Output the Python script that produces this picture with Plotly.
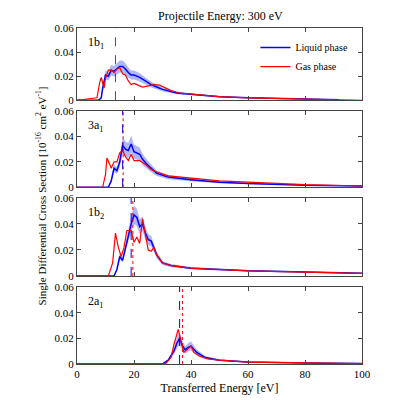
import plotly.graph_objects as go

# Transferred energy [eV] and SDCS [1e-16 cm^2/eV]
labels = ["1b<sub>1</sub>", "3a<sub>1</sub>", "1b<sub>2</sub>", "2a<sub>1</sub>"]

liq_x = [
    [0, 7.5, 8.5, 9, 10, 11, 12, 13, 14, 15, 16, 17, 18, 19, 20, 22, 24, 26, 28, 30, 35, 40, 50, 60, 70, 80, 92],
    [0, 11, 12, 13, 14, 15, 16, 17, 18, 19, 20, 22, 23, 25, 28, 32, 40, 50, 60, 80, 100],
    [0, 13, 14, 15, 16, 17, 18, 19, 20, 21, 22, 23, 24, 25, 26, 27, 28, 30, 33, 40, 50, 60, 80, 100],
    [0, 30, 32, 34, 35, 36, 37, 38, 39, 40, 42, 45, 50, 60, 80, 100],
]
liq_y = [
    [0, 0, 0.002, 0.01, 0.021, 0.02, 0.025, 0.024, 0.026, 0.028, 0.028, 0.026, 0.023, 0.021, 0.021, 0.019, 0.016, 0.013, 0.011, 0.009, 0.006, 0.005, 0.003, 0.002, 0.0015, 0.001, 0.0005],
    [0, 0, 0.005, 0.015, 0.013, 0.02, 0.033, 0.03, 0.029, 0.034, 0.028, 0.026, 0.022, 0.017, 0.011, 0.008, 0.006, 0.004, 0.003, 0.0015, 0.001],
    [0, 0, 0.005, 0.015, 0.012, 0.022, 0.032, 0.04, 0.047, 0.045, 0.038, 0.04, 0.033, 0.028, 0.027, 0.022, 0.016, 0.01, 0.008, 0.006, 0.005, 0.004, 0.003, 0.002],
    [0, 0, 0.003, 0.01, 0.016, 0.02, 0.014, 0.011, 0.013, 0.014, 0.009, 0.005, 0.003, 0.0015, 0.0008, 0.0004],
]
gas_x = [
    [0, 7, 8, 8.5, 9.5, 10, 11, 12, 13, 14, 15, 16, 17, 18, 19, 20, 21, 23, 25, 27, 29, 31, 33, 36, 40, 50, 60, 80, 100],
    [0, 9, 10, 10.5, 11.5, 12, 13, 14, 15, 16, 17, 18, 19, 20, 22, 24, 26, 28, 32, 40, 50, 60, 80, 100],
    [0, 11, 12.5, 13.5, 14.5, 15.5, 16.5, 17.5, 19, 20, 21, 22, 23, 24, 25, 26, 27, 28, 30, 33, 40, 50, 60, 80, 100],
    [0, 31, 33, 34, 35.5, 36.5, 37.5, 38.5, 40, 41, 43, 46, 50, 60, 80, 100],
]
gas_y = [
    [0, 0.002, 0.015, 0.019, 0.01, 0.018, 0.025, 0.025, 0.023, 0.026, 0.027, 0.022, 0.021, 0.016, 0.013, 0.014, 0.013, 0.011, 0.012, 0.013, 0.0125, 0.01, 0.008, 0.006, 0.005, 0.003, 0.002, 0.001, 0],
    [0, 0, 0.01, 0.023, 0.018, 0.015, 0.02, 0.02, 0.027, 0.029, 0.024, 0.021, 0.026, 0.021, 0.021, 0.018, 0.014, 0.012, 0.009, 0.007, 0.005, 0.004, 0.002, 0.001],
    [0, 0, 0.01, 0.033, 0.022, 0.015, 0.022, 0.035, 0.035, 0.026, 0.03, 0.025, 0.044, 0.032, 0.02, 0.019, 0.022, 0.016, 0.01, 0.008, 0.006, 0.005, 0.004, 0.003, 0.002],
    [0, 0, 0.005, 0.015, 0.027, 0.018, 0.009, 0.011, 0.014, 0.009, 0.006, 0.004, 0.003, 0.0015, 0.0008, 0.0004],
]
band_frac = [0.18, 0.2, 0.15, 0.25]      # relative uncertainty of liquid phase
liq_vline = [13.5, 16, 19, 36]
gas_vline = [None, 16.2, 19.6, 37]

domains = [[0.785, 1.0], [0.526, 0.753], [0.262, 0.494], [0.0, 0.229]]
FONT = "Liberation Serif"

fig = go.Figure()
for i in range(4):
    xa = "x" if i == 0 else f"x{i+1}"
    ya = "y" if i == 0 else f"y{i+1}"
    f = band_frac[i]
    up = [v * (1 + f) for v in liq_y[i]]
    lo = [v * (1 - f) for v in liq_y[i]]
    fig.add_trace(go.Scatter(x=liq_x[i] + liq_x[i][::-1], y=up + lo[::-1], fill="toself",
                             fillcolor="rgba(100,110,240,0.5)", line=dict(width=0),
                             showlegend=False, xaxis=xa, yaxis=ya, hoverinfo="skip"))
    fig.add_trace(go.Scatter(x=liq_x[i], y=liq_y[i], mode="lines", line=dict(color="blue", width=1.5),
                             name="Liquid phase", showlegend=(i == 0), xaxis=xa, yaxis=ya))
    fig.add_trace(go.Scatter(x=gas_x[i], y=gas_y[i], mode="lines", line=dict(color="red", width=1.2),
                             name="Gas phase", showlegend=(i == 0), xaxis=xa, yaxis=ya))
    fig.add_shape(type="line", x0=liq_vline[i], x1=liq_vline[i], y0=0, y1=0.06, xref=xa, yref=ya,
                  line=dict(color="blue" if i else "#7a22d0", width=1, dash="dash"))
    if gas_vline[i] is not None:
        fig.add_shape(type="line", x0=gas_vline[i], x1=gas_vline[i], y0=0, y1=0.06, xref=xa, yref=ya,
                      line=dict(color="red", width=1, dash="dot"))
    fig.add_annotation(text=labels[i], x=0.03, y=0.93, xref=f"{xa} domain", yref=f"{ya} domain",
                       xanchor="left", yanchor="top", showarrow=False, font=dict(size=12))
    axkw = dict(showline=True, mirror="ticks", linecolor="#444", ticks="inside", ticklen=4,
                showgrid=False, zeroline=False, tickfont=dict(size=11))
    fig.layout["xaxis" if i == 0 else f"xaxis{i+1}"] = dict(
        domain=[0, 1], range=[0, 100], dtick=20, anchor=ya,
        showticklabels=(i == 3), **axkw)
    fig.layout["yaxis" if i == 0 else f"yaxis{i+1}"] = dict(
        domain=domains[i], range=[0, 0.06], tickvals=[0, 0.02, 0.04, 0.06],
        ticktext=["0", "0.02", "0.04", "0.06"], anchor=xa, **axkw)

fig.layout.xaxis4.title = dict(text="Transferred Energy [eV]", font=dict(size=12), standoff=4)
fig.add_annotation(text="Single Differential Cross Section [10<sup>-16</sup> cm<sup>2</sup> eV<sup>-1</sup>]",
                   x=-0.125, y=0.5, xref="paper", yref="paper", textangle=-90, showarrow=False,
                   xanchor="center", yanchor="middle", font=dict(size=11))
fig.add_annotation(text="Projectile Energy: 300 eV", x=0.502, y=1.035, xref="paper", yref="paper",
                   yanchor="middle", showarrow=False, font=dict(size=12))

# page body adds an offset, so the figure is shrunk a little
fig.update_layout(width=392, height=392, margin=dict(l=69, r=38, t=20, b=36, autoexpand=False),
                  plot_bgcolor="white", paper_bgcolor="white",
                  font=dict(family=FONT, color="black"),
                  legend=dict(x=0.97, y=0.985, xanchor="right", yanchor="top", bgcolor="rgba(0,0,0,0)",
                              font=dict(size=10), traceorder="normal"))
fig.write_html("out.html")
